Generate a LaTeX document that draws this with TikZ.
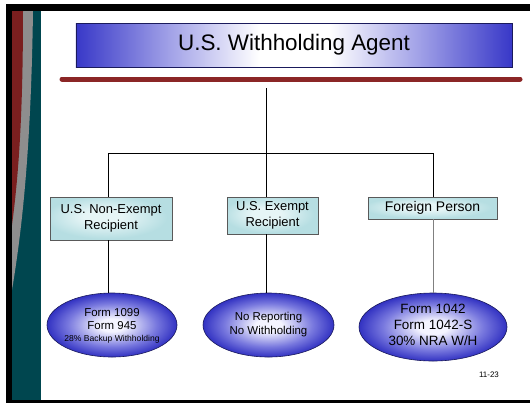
\documentclass[tikz,border=0pt]{standalone}
\usepackage{fontspec}
\setmainfont{Liberation Sans}
\usetikzlibrary{shapes.geometric}
\definecolor{tealbar}{HTML}{00464F}
\definecolor{redbar}{HTML}{7A1F1F}
\definecolor{graybar}{HTML}{8E8E8E}
\definecolor{rule}{HTML}{8B2626}
\definecolor{tb}{HTML}{3838C8}
\definecolor{tl}{HTML}{A4A4E8}
\definecolor{ein}{HTML}{F4F4FF}
\definecolor{emid}{HTML}{7878DE}
\definecolor{eout}{HTML}{3232C2}
\definecolor{boxin}{HTML}{E6F5F6}
\definecolor{boxout}{HTML}{B6DEE2}
\definecolor{navy}{HTML}{1A1A5C}
\pgfdeclarehorizontalshading{titlesh}{100bp}{color(0bp)=(tb); color(25bp)=(tb); color(36bp)=(tl); color(46bp)=(white); color(54bp)=(white); color(64bp)=(tl); color(75bp)=(tb); color(100bp)=(tb)}
\pgfdeclareradialshading{ellsh}{\pgfpoint{0bp}{0bp}}{color(0bp)=(ein); color(5bp)=(ein); color(17bp)=(emid); color(25bp)=(eout); color(50bp)=(eout)}
\pgfdeclareradialshading{boxsh}{\pgfpoint{-4bp}{3bp}}{color(0bp)=(boxin); color(8bp)=(boxin); color(25bp)=(boxout); color(50bp)=(boxout)}
\tikzset{
  titlebox/.style={draw=navy, line width=0.8bp, shading=titlesh, minimum width=436bp, minimum height=44bp, inner sep=0pt, font=\fontsize{22.5}{26}\selectfont},
  catbox/.style={draw=black!65, line width=0.7bp, shading=boxsh, inner sep=0pt, align=center, font=\fontsize{13}{16}\selectfont},
  formell/.style={ellipse, draw=navy, line width=0.6bp, shading=ellsh, inner sep=0pt},
  formtext/.style={align=center, inner sep=0pt},
  conn/.style={draw=black, line width=0.8bp}
}
\begin{document}
\begin{tikzpicture}[x=1bp,y=-1bp]
\useasboundingbox (0,0) rectangle (530,403);
\fill[white] (0,0) rectangle (530,403);
% frame
\fill[black] (6,4) rectangle (530,11);
\fill[black] (6,4) rectangle (12,403);
\fill[black] (6,400) rectangle (530,403);
% left stripes
\fill[tealbar] (12,11) rectangle (41,400);
\fill[graybar] (12,11) -- (33,11) .. controls (31,150) and (22,230) .. (12,290) -- cycle;
\fill[redbar] (12,11) -- (23,11) .. controls (23,120) and (18,180) .. (12,225) -- cycle;
% title
\node[titlebox] (title) at (294,45) {U.S. Withholding Agent};
\coordinate (rl) at (62,79);
\coordinate (rr) at (520,79);
\draw[rule, line width=5bp, line cap=round] (rl) -- (rr);
% boxes
\node[catbox, minimum width=122bp, minimum height=43bp] (nonex) at (111,218.5) {U.S. Non-Exempt\\Recipient};
\node[catbox, minimum width=91bp, minimum height=37bp] (exempt) at (272.5,215.5) {U.S. Exempt\\Recipient};
\node[catbox, minimum width=129bp, minimum height=22bp, font=\fontsize{14}{16}\selectfont] (foreign) at (432.5,208) {Foreign Person};
% ellipses
\node[formell, minimum width=130bp, minimum height=64bp] (e1) at (112,325) {};
\node[formell, minimum width=131bp, minimum height=64bp] (e2) at (268.5,325) {};
\node[formell, minimum width=148bp, minimum height=68bp] (e3) at (433,327) {};
\node[formtext, font=\fontsize{11.5}{13}\selectfont] (t1) at (112,326) {Form 1099\\Form 945\\[-1.5bp]{\fontsize{8.6}{10}\selectfont 28\% Backup Withholding}};
\node[formtext, font=\fontsize{11.5}{15}\selectfont] (t2) at (268.5,324.5) {No Reporting\\No Withholding};
\node[formtext, font=\fontsize{13.5}{16}\selectfont] (t3) at (433,324.5) {Form 1042\\Form 1042-S\\30\% NRA W/H};
% page number
\node[inner sep=0pt, font=\fontsize{8}{9}\selectfont] (pg) at (489,375) {11-23};
% connectors
\coordinate (tap) at (266,88);
\coordinate (bl) at (108,153);
\coordinate (bm) at (266,153);
\coordinate (br) at (433,153);
\draw[conn] (tap) -- (bm);
\draw[conn] (bl |- nonex.north) -- (bl) -- (br) -- (br |- foreign.north);
\draw[conn] (bm) -- (bm |- exempt.north);
\draw[conn] (bl |- nonex.south) -- (bl |- e1.north);
\draw[conn] (bm |- exempt.south) -- (bm |- e2.north);
\draw[conn, draw=black!50] (br |- foreign.south) -- (br |- e3.north);
\end{tikzpicture}
\end{document}
